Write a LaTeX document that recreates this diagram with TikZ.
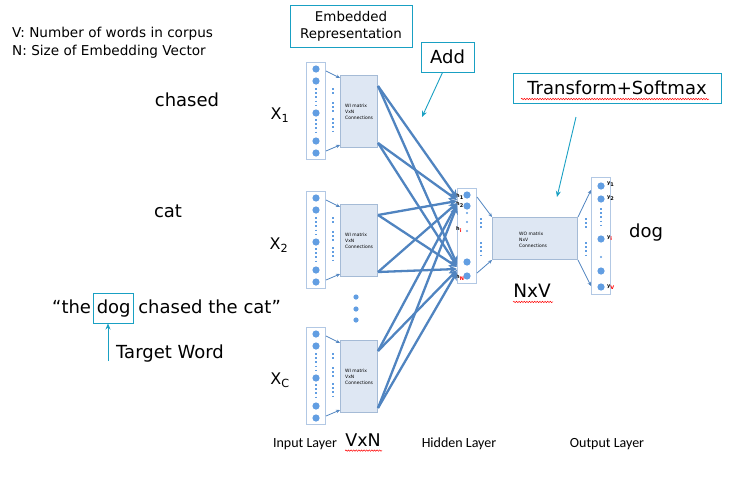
\documentclass[tikz,border=0pt]{standalone}
\usepackage{fontspec}
\setmainfont{DejaVu Sans}
\newfontfamily\calfont{Carlito}
\usetikzlibrary{arrows.meta,decorations.pathmorphing}
\definecolor{cyanbox}{RGB}{25,160,195}
\definecolor{fanblue}{RGB}{80,132,192}
\definecolor{dotblue}{RGB}{98,158,226}
\definecolor{colborder}{RGB}{178,200,228}
\definecolor{boxfill}{RGB}{222,231,243}
\definecolor{boxborder}{RGB}{165,187,214}
\tikzset{
  txt/.style={inner sep=0pt},
  big/.style={txt, font=\fontsize{18}{21}\selectfont},
  col/.style={draw=colborder, line width=1pt, fill=white, inner sep=0pt, minimum width=19pt},
  wbox/.style={draw=boxborder, line width=1pt, fill=boxfill, inner sep=0pt},
  fan/.style={draw=fanblue, line width=2.3pt, -{Stealth[length=8pt,width=8pt]}},
  thinarrow/.style={draw=fanblue, line width=0.8pt, -{Stealth[length=4pt,width=3.5pt]}},
  vdots/.style={draw=dotblue, line width=1.6pt, dash pattern=on 1.6pt off 2.6pt},
  callout/.style={draw=cyanbox, line width=1pt},
  carrow/.style={draw=cyanbox, line width=0.9pt, -{Stealth[length=6pt,width=5pt]}},
  tiny/.style={txt, font=\fontsize{4.5}{6}\selectfont, align=left},
  hlab/.style={txt, font=\bfseries\fontsize{5}{6}\selectfont, anchor=west},
  layer/.style={txt, font=\calfont\fontsize{14}{16}\selectfont},
  squig/.style={draw=red, line width=0.5pt, decorate, decoration={snake, amplitude=0.7pt, segment length=2.6pt}}
}
\begin{document}
\begin{tikzpicture}[x=1pt,y=-1pt]
\useasboundingbox (0,0) rectangle (733,477);

% legend
\node[txt, anchor=west, font=\fontsize{13.6}{16}\selectfont] (legV) at (12,34) {V: Number of words in corpus};
\node[txt, anchor=west, font=\fontsize{13.6}{16}\selectfont] (legN) at (12,52) {N: Size of Embedding Vector};

% context words
\node[big] (wchased) at (187,100) {chased};
\node[big] (wcat) at (168,211) {cat};
\node[txt, font=\fontsize{16}{18}\selectfont] (x1) at (280,115) {X\textsubscript{1}};
\node[txt, font=\fontsize{16}{18}\selectfont] (x2) at (279,245) {X\textsubscript{2}};
\node[txt, font=\fontsize{16}{18}\selectfont] (xc) at (280,380) {X\textsubscript{C}};

% sentence
\node[big, anchor=base west] (q1) at (52,313) {“the};
\node[big, anchor=base west, draw=cyanbox, line width=1pt, inner xsep=3pt, inner ysep=6pt, text height=13.5pt, text depth=4pt] (dogw) at ([xshift=2pt]q1.base east) {dog};
\node[big, anchor=base west] (q2) at ([xshift=4pt]dogw.base east) {chased the cat”};
\node[big, anchor=west] (tw) at (116,354) {Target Word};
\coordinate (twstart) at (108,361);
\draw[carrow] (twstart) -- (twstart |- dogw.south);

% hidden layer
\node[col, minimum height=95pt, anchor=north west] (hid) at (457,188) {};
\foreach \yy in {195,206,262,276} \fill[dotblue] (467,\yy) circle (3.6pt);
\foreach \yy in {213,222,231} \fill[dotblue] (467,\yy) circle (1.1pt);
\node[hlab] (h1) at (456,197) {h\textsubscript{1}};
\node[hlab] (h2) at (456,205) {h\textsubscript{2}};
\node[hlab] (hi) at (456,230) {h\textsubscript{\color{red}i}};
\node[hlab] (hn) at (456,278) {h\textsubscript{\color{red}N}};

% input groups
\foreach \g/\t in {1/62,2/191,3/327}{
  \node[col, minimum height=97pt, anchor=north west] (in\g) at (306,\t) {};
  \foreach \o in {7,19,51,79,91} \fill[dotblue] (316,\t+\o) circle (3.6pt);
  \draw[vdots] (316,\t+26) -- (316,\t+45);
  \draw[vdots] (316,\t+57) -- (316,\t+73);
  \node[wbox, minimum width=37pt, minimum height=72pt, anchor=north west] (w\g) at (340,\t+13) {};
  \node[tiny, anchor=west] (wt\g) at (345,\t+50) {WI matrix\\VxN\\Connections};
  \draw[vdots] (333,\t+26) -- (333,\t+34);
  \draw[vdots] (333,\t+40) -- (333,\t+52);
  \draw[vdots] (333,\t+56) -- (333,\t+71);
  \draw[thinarrow] ([yshift=-9pt]in\g.north east) -- ([yshift=-3pt]w\g.north west);
  \draw[thinarrow] ([yshift=9pt]in\g.south east) -- ([yshift=3pt]w\g.south west);
}

% fan connections
\foreach \g/\a/\b in {1/198/264,2/201/267,3/204/270}{
  \draw[fan] ([yshift=-11pt]w\g.north east) -- (hid.west |- 0,\a);
  \draw[fan] ([yshift=-11pt]w\g.north east) -- (hid.west |- 0,\b);
  \draw[fan] ([yshift=5pt]w\g.south east) -- (hid.west |- 0,\a+2);
  \draw[fan] ([yshift=5pt]w\g.south east) -- (hid.west |- 0,\b+2);
}
\foreach \yy in {297,309,320} \fill[dotblue] (356,\yy) circle (2.6pt);

% output side
\node[wbox, minimum width=85pt, minimum height=42pt, anchor=north west] (wo) at (492,217) {};
\node[tiny, anchor=west] (wot) at (519,240) {WO matrix\\NxV\\Connections};
\node[col, minimum height=117pt, anchor=north west] (out) at (591,177) {};
\foreach \yy in {186,199,239,271,287} \fill[dotblue] (601,\yy) circle (3.6pt);
\draw[vdots] (601,208) -- (601,225);
\fill[dotblue] (601,257) circle (1.1pt);
\node[hlab] (y1) at (607,184) {y\textsubscript{1}};
\node[hlab] (y2) at (607,198) {y\textsubscript{2}};
\node[hlab] (yi) at (607,238) {y\textsubscript{\color{red}i}};
\node[hlab] (yv) at (607,287) {y\textsubscript{\color{red}V}};
\draw[vdots] (481,218) -- (481,229);
\draw[vdots] (481,242) -- (481,256);
\draw[vdots] (586,218) -- (586,229);
\draw[vdots] (586,242) -- (586,256);
\draw[thinarrow] ([yshift=-9pt]hid.north east) -- (wo.north west);
\draw[thinarrow] ([yshift=11pt]hid.south east) -- (wo.south west);
\draw[thinarrow] (wo.north east) -- ([yshift=-13pt]out.north west);
\draw[thinarrow] (wo.south east) -- ([yshift=9pt]out.south west);
\node[big] (dogout) at (646,233) {dog};

% dimension labels
\node[txt, font=\fontsize{18.5}{20}\selectfont] (nxv) at (532,291) {NxV};
\draw[squig] (nxv.south west) ++(0,4) -- ++(40,0);
\node[txt, font=\fontsize{17.5}{20}\selectfont] (vxn) at (363,440) {VxN};
\draw[squig] (vxn.south west) ++(0,4) -- ++(37,0);

% layer labels
\node[layer] (linput) at (305,444) {Input Layer};
\node[layer] (lhidden) at (459,444) {Hidden Layer};
\node[layer] (loutput) at (607,444) {Output Layer};

% callouts
\node[callout, font=\fontsize{13.4}{17}\selectfont, align=center, minimum width=122pt, minimum height=42pt, inner sep=2pt] (emb) at (351,26) {Embedded\\Representation};
\node[callout, big, minimum width=53pt, minimum height=30pt] (add) at (447.5,57) {Add};
\coordinate (addtip) at (422,117);
\draw[carrow] ([xshift=-5pt]add.south) -- (addtip);
\node[callout, big, minimum width=208pt, minimum height=30pt] (tsm) at (617,88) {Transform+Softmax};
\draw[squig] (521,99) -- (709,99);
\coordinate (tsstart) at (576,117);
\coordinate (tstip) at (557,197);
\draw[carrow] (tsstart) -- (tstip);
\end{tikzpicture}
\end{document}
